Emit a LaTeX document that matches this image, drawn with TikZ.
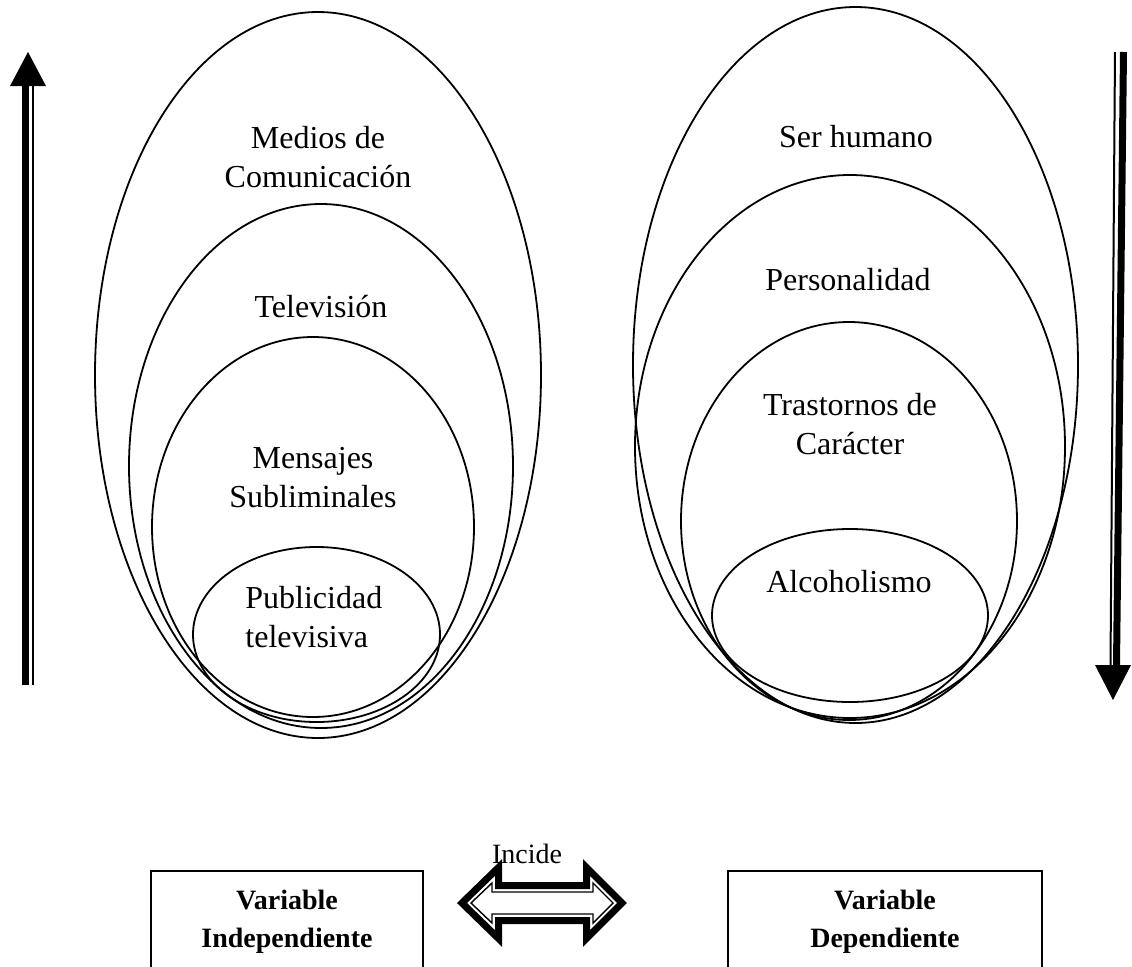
\documentclass[tikz,border=0pt]{standalone}
\usepackage{fontspec}
\setmainfont{Liberation Serif}
\usetikzlibrary{positioning,shapes,arrows}

\begin{document}
\begin{tikzpicture}[x=0.5pt,y=-0.5pt,
      ell/.style={draw,ellipse,line width=0.9pt,inner sep=0pt},
      lbl/.style={font=\fontsize{16}{19.5}\selectfont,align=center,inner sep=0pt,anchor=base},
      varbox/.style={draw,line width=1pt,minimum height=51pt,inner sep=0pt,align=center,
                     font=\fontsize{14}{19}\selectfont\bfseries}
    ]
    \useasboundingbox (0,0) rectangle (1132,966);
    \clip (0,0) rectangle (1132,966);

    % variable independiente
    \node[ell, minimum width=223pt,   minimum height=363pt]  (medios) at (318,375) {};
    \node[ell, minimum width=192pt,   minimum height=262pt]  (tv)     at (321,466) {};
    \node[ell, minimum width=161pt,   minimum height=190pt]  (msj)    at (313,527) {};
    \node[ell, minimum width=123.5pt, minimum height=87.5pt] (pub)    at (316.5,634.5) {};
    \node[lbl] (tmedios) at (318,187) {Medios de\\Comunicación};
    \node[lbl] (ttv)     at (321,317) {Televisión};
    \node[lbl] (tmsj)    at (313,507) {Mensajes\\Subliminales};
    \node[lbl, align=left, anchor=base west] (tpub) at (245,647) {Publicidad\\televisiva};

    % variable dependiente
    \node[ell, minimum width=222.5pt, minimum height=358pt]   (ser)   at (855.5,365) {};
    \node[ell, minimum width=215pt,   minimum height=271.5pt] (pers)  at (850,446.5) {};
    \node[ell, minimum width=168pt,   minimum height=199pt]   (trast) at (849,521) {};
    \node[ell, minimum width=138pt,   minimum height=86.5pt]  (alco)  at (850,615.5) {};
    \node[lbl] (tser)   at (856,147) {Ser humano};
    \node[lbl] (tpers)  at (848,290) {Personalidad};
    \node[lbl] (ttrast) at (850,454) {Trastornos de\\Carácter};
    \node[lbl] (talco)  at (849,592) {Alcoholismo};

    % flechas laterales
    \coordinate (upbot) at (28,685);
    \coordinate (uptop) at (28,86);
    \draw[line width=3.5pt] ([xshift=-1.25pt]upbot) -- ([xshift=-1.25pt]uptop);
    \draw[line width=1pt]   ([xshift=2.5pt]upbot) -- ([xshift=2.5pt]uptop);
    \fill (10,86) -- (28,52) -- (46,86) -- cycle;

    \coordinate (dntop) at (1119,52);
    \coordinate (dnbot) at (1113,665);
    \draw[line width=1pt]   ([xshift=-2pt]dntop) -- ([xshift=-1.25pt]dnbot);
    \draw[line width=3.5pt] ([xshift=2.25pt]dntop) -- ([xshift=1.75pt]dnbot);
    \fill (1095,665) -- (1131,665) -- (1113,700) -- cycle;

    % cajas
    \node[varbox, minimum width=136pt] (vi) at (287,922) {Variable\\Independiente};
    \node[varbox, minimum width=157pt] (vd) at (885,922) {Variable\\Dependiente};

    % flecha doble
    \draw[line width=3.5pt,miter limit=10]
      (462,903) -- (498.5,867.5) -- (498.5,885.5) -- (586.5,885.5) -- (586.5,867.5) -- (622,903)
      -- (586.5,938.5) -- (586.5,920.5) -- (498.5,920.5) -- (498.5,938.5) -- cycle;
    \draw[line width=0.7pt,miter limit=10]
      (471,903) -- (492,883) -- (492,892) -- (593,892) -- (593,883) -- (613,903)
      -- (593,923) -- (593,914) -- (492,914) -- (492,923) -- cycle;
    \node[font=\fontsize{14}{17}\selectfont, inner sep=0pt, anchor=base] (incide) at (527,863) {Incide};
\end{tikzpicture}
\end{document}
